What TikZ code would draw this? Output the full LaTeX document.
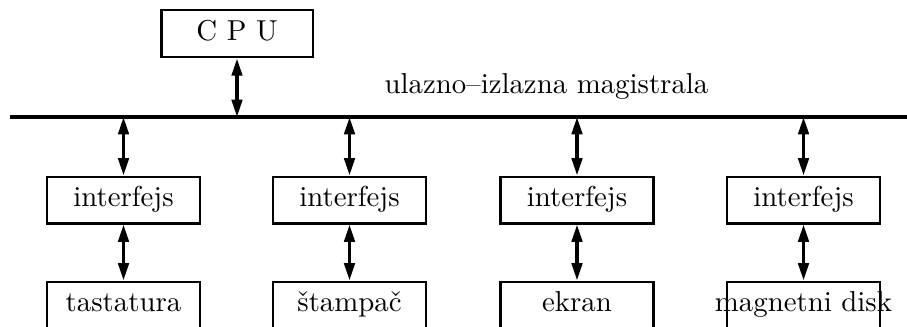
\documentclass[tikz,border=0pt]{standalone}
\usetikzlibrary{arrows.meta}
\begin{document}
\begin{tikzpicture}[x=0.347pt,y=-0.347pt,
  box/.style={draw,line width=1pt,minimum width=53.1pt,minimum height=16pt,
    inner sep=0pt,text height=6.6pt,text depth=2pt,font=\normalsize},
  cpubox/.style={box,minimum width=52.7pt,minimum height=16.3pt},
  link/.style={line width=1.15pt,
    {Triangle[length=6pt,width=3.6pt]}-{Triangle[length=6pt,width=3.6pt]}},
  bus/.style={line width=1.15pt}
]
\clip (0,0) rectangle (907,326);
\useasboundingbox (0,0) rectangle (907,326);

\node[cpubox] (cpu) at (237,33.5) {C P U};

\coordinate (bl) at (10,117);
\coordinate (br) at (910,117);
\draw[bus] (bl) -- (br);
\node[anchor=base] (buslabel) at (546.5,93) {ulazno--izlazna magistrala};

\node[box] (i1) at (123.5,200) {interfejs};
\node[box] (i2) at (349.5,200) {interfejs};
\node[box] (i3) at (577,200) {interfejs};
\node[box] (i4) at (803.5,200) {interfejs};

\node[box] (d1) at (123.5,305) {tastatura};
\node[box] (d2) at (349.5,305) {\v{s}tampa\v{c}};
\node[box] (d3) at (577,305) {ekran};
\node[box] (d4) at (803.5,305) {\makebox[0pt]{magnetni disk}};

\coordinate (b0) at (cpu.south |- bl);
\coordinate (b1) at (i1.north |- bl);
\coordinate (b2) at (i2.north |- bl);
\coordinate (b3) at (i3.north |- bl);
\coordinate (b4) at (i4.north |- bl);

\draw[link] (cpu.south) -- (b0);
\foreach \k in {1,2,3,4}{
  \draw[link] (b\k) -- (i\k.north);
  \draw[link] (i\k.south) -- (d\k.north);
}
\end{tikzpicture}
\end{document}
